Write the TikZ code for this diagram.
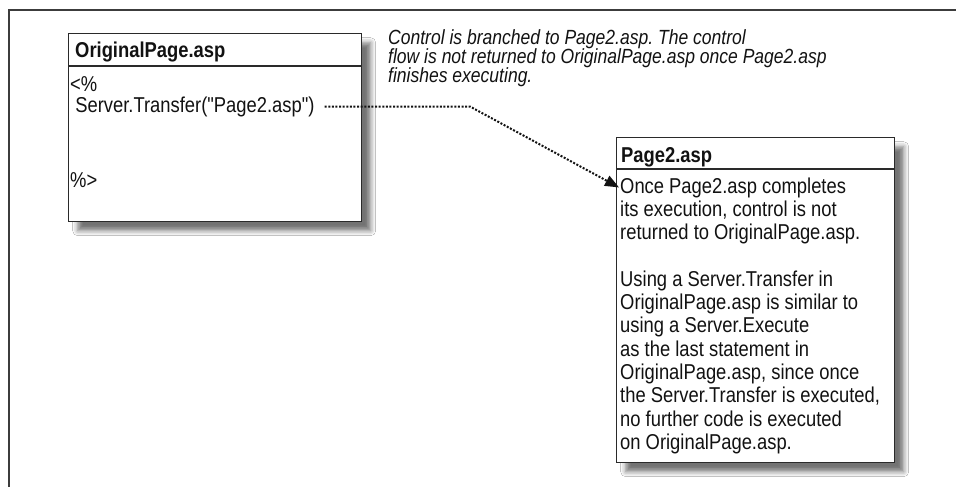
\documentclass[tikz,border=0pt]{standalone}
\usepackage{fontspec}
\setmainfont{Liberation Sans}[FakeStretch=0.855,Ligatures=TeXOff]
\usetikzlibrary{shadows.blur,arrows.meta}
\definecolor{framegray}{HTML}{3C3C3C}
\definecolor{boxline}{HTML}{2A2A2A}
\definecolor{inktext}{HTML}{121212}
\frenchspacing
\begin{document}
\begin{tikzpicture}[x=1pt,y=-1pt,
  frameline/.style={draw=framegray,line width=2.4pt},
  pagebox/.style={draw=boxline,line width=1.4pt,fill=white,anchor=north west,
    inner sep=0pt,
    blur shadow={shadow xshift=9pt,shadow yshift=-9pt,shadow blur radius=5pt,shadow opacity=55}},
  divider/.style={draw=boxline,line width=1.4pt},
  headtxt/.style={anchor=base west,inner sep=0pt,text=inktext,font=\fontsize{21.5}{24}\selectfont\bfseries},
  bodytxt/.style={anchor=base west,inner sep=0pt,text=inktext,font=\fontsize{21.5}{24}\selectfont},
  notetxt/.style={anchor=base west,inner sep=0pt,text=inktext,font=\fontsize{20.5}{21}\selectfont\itshape},
  flow/.style={draw=inktext,line width=2pt,dash pattern=on 2pt off 1.6pt,
    -{Triangle[length=14pt,width=11pt]}}
]
\useasboundingbox (0,0) rectangle (956,487);
\fill[white] (0,0) rectangle (956,487);

% outer frame, open at the bottom and right
\draw[frameline] (9,487) -- (9,10) -- (956,10);

% OriginalPage.asp
\node[pagebox,minimum width=293pt,minimum height=188pt] (orig) at (68,33) {};
\draw[divider] (68,66) -- (361,66);
\node[headtxt] (origh) at (75,58) {OriginalPage.asp};
\node[bodytxt] (open) at (70,92) {<\%};
\node[bodytxt] (srv) at (70,113) {\ Server.Transfer("Page2.asp")};
\node[bodytxt] (close) at (70,187) {\%>};

% Page2.asp
\node[pagebox,minimum width=278pt,minimum height=325pt] (page2) at (616,137) {};
\draw[divider] (616,169) -- (894,169);
\node[headtxt] (p2h) at (621,162) {Page2.asp};
\node[bodytxt] (p2l1) at (620,193.0) {Once Page2.asp completes};
\node[bodytxt] (p2l2) at (620,216.3) {its execution, control is not};
\node[bodytxt] (p2l3) at (620,239.6) {returned to OriginalPage.asp.};
\node[bodytxt] (p2l4) at (620,286.2) {Using a Server.Transfer in};
\node[bodytxt] (p2l5) at (620,309.5) {OriginalPage.asp is similar to};
\node[bodytxt] (p2l6) at (620,332.8) {using a Server.Execute};
\node[bodytxt] (p2l7) at (620,356.1) {as the last statement in};
\node[bodytxt] (p2l8) at (620,379.4) {OriginalPage.asp, since once};
\node[bodytxt] (p2l9) at (620,402.7) {the Server.Transfer is executed,};
\node[bodytxt] (p2l10) at (620,426.0) {no further code is executed};
\node[bodytxt] (p2l11) at (620,449.3) {on OriginalPage.asp.};

% annotation
\node[notetxt] (note1) at (388,45) {Control is branched to Page2.asp. The control};
\node[notetxt] (note2) at (388,64) {flow is not returned to OriginalPage.asp once Page2.asp};
\node[notetxt] (note3) at (388,83) {finishes executing.};

% transfer of control
\coordinate (start) at ([xshift=10pt,yshift=6.5pt]srv.base east);
\coordinate (bend) at (470,0 |- start);
\draw[flow] (start) -- (bend) -- ([xshift=-1pt]p2l1.west);
\end{tikzpicture}
\end{document}
